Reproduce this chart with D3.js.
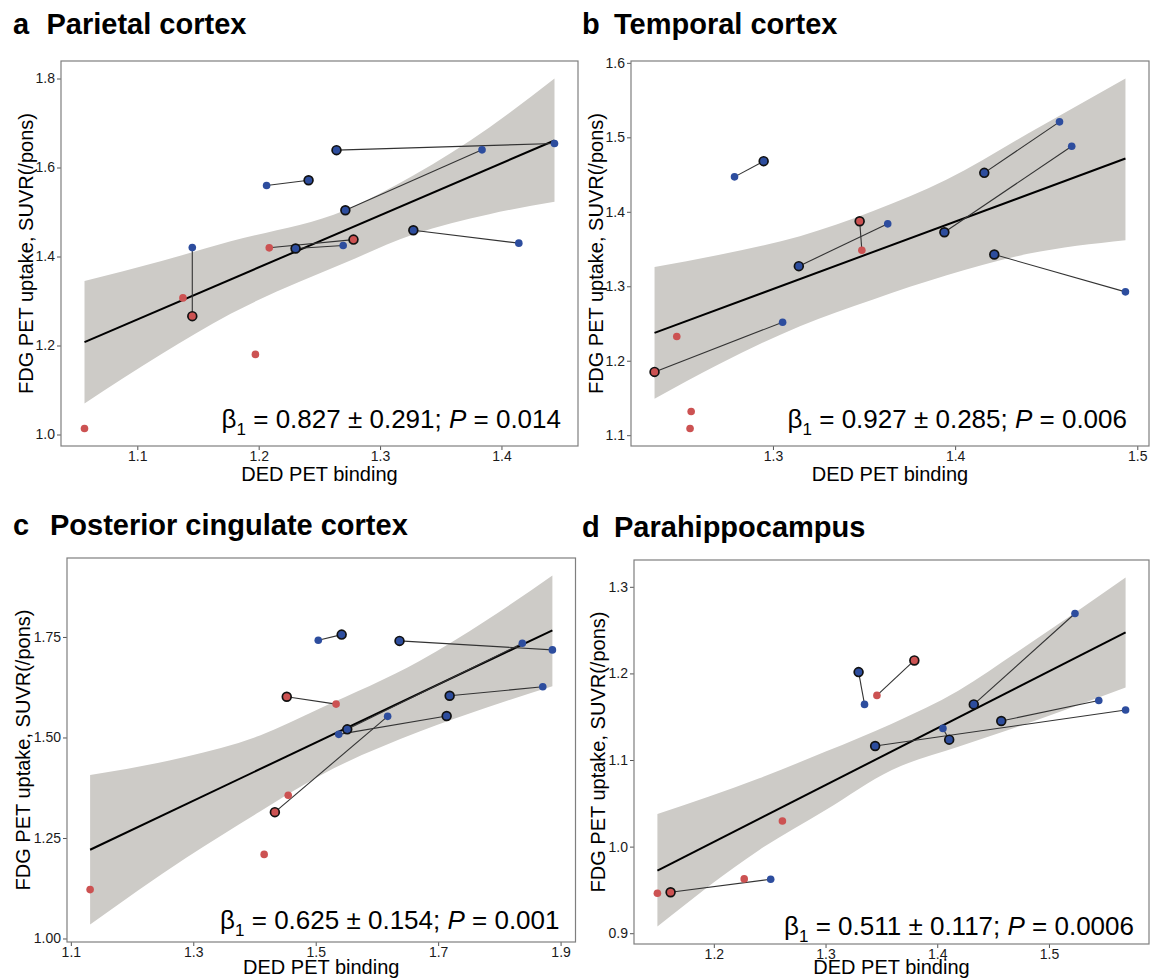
<!DOCTYPE html>
<html>
<head>
<meta charset="utf-8">
<script src="https://cdn.jsdelivr.net/npm/d3@7"></script>
<style>
  body { margin: 0; background: #fff; }
  svg { display: block; font-family: "Liberation Sans", Arial, Helvetica, sans-serif; }
</style>
</head>
<body>
<svg id="chart" width="1150" height="979"></svg>
<script>
// ---- data ----
// group: r = red, b = blue; ring: 1 = large outlined point
var aTitle = "Parietal cortex";
var aX = [1.0565, 1.1376, 1.1453, 1.1453, 1.1973, 1.2087, 1.2065, 1.2411, 1.2304, 1.2781, 1.2696, 1.2641, 1.4437, 1.2714, 1.3840, 1.3274, 1.4143];
var aY = [1.0135, 1.3070, 1.4200, 1.2660, 1.1800, 1.4195, 1.5596, 1.5715, 1.4180, 1.4380, 1.4247, 1.6390, 1.6540, 1.5040, 1.6397, 1.4590, 1.4300];
var aGroup = ["r","r","b","r","r","r","b","b","b","r","b","b","b","b","b","b","b"];
var aRing = [0,0,0,1,0,0,0,1,1,1,0,1,0,1,0,1,0];
var aLinks = [[2,3],[6,7],[5,9],[8,10],[11,12],[13,14],[15,16]];
var aFitX = [1.0565, 1.4437];
var aFitY = [1.2075, 1.6607];
var aBandX = [1.0565, 1.12, 1.1769, 1.2711, 1.3273, 1.39, 1.4437];
var aBandHi = [1.345, 1.390, 1.434, 1.504, 1.582, 1.690, 1.800];
var aBandLo = [1.0697, 1.181, 1.2712, 1.3858, 1.4494, 1.495, 1.523];
var aTicksX = [1.1, 1.2, 1.3, 1.4];
var aTicksY = [1.0, 1.2, 1.4, 1.6, 1.8];
var aStat = ["0.827", "0.291", "0.014"];

var bTitle = "Temporal cortex";
var bX = [1.2350, 1.3053, 1.2472, 1.2551, 1.2545, 1.2789, 1.2949, 1.3142, 1.3630, 1.3476, 1.3488, 1.3941, 1.4640, 1.4160, 1.4573, 1.4215, 1.4935];
var bY = [1.1850, 1.2517, 1.2325, 1.1318, 1.1090, 1.4469, 1.4680, 1.3270, 1.3838, 1.3874, 1.3484, 1.3726, 1.4881, 1.4523, 1.5208, 1.3426, 1.2925];
var bGroup = ["r","b","r","r","r","b","b","b","b","r","r","b","b","b","b","b","b"];
var bRing = [1,0,0,0,0,0,1,1,0,1,0,1,0,1,0,1,0];
var bLinks = [[0,1],[5,6],[7,8],[9,10],[11,12],[13,14],[15,16]];
var bFitX = [1.235, 1.4935];
var bFitY = [1.2374, 1.4715];
var bBandX = [1.235, 1.27, 1.3148, 1.355, 1.3954, 1.44, 1.4935];
var bBandHi = [1.326, 1.342, 1.3672, 1.401, 1.4433, 1.505, 1.579];
var bBandLo = [1.1488, 1.195, 1.2463, 1.2823, 1.3147, 1.3435, 1.3619];
var bTicksX = [1.3, 1.4, 1.5];
var bTicksY = [1.1, 1.2, 1.3, 1.4, 1.5, 1.6];
var bStat = ["0.927", "0.285", "0.006"];

var cTitle = "Posterior cingulate cortex";
var cX = [1.1315, 1.4158, 1.4551, 1.4333, 1.6175, 1.4527, 1.5333, 1.5042, 1.5424, 1.6369, 1.8866, 1.8375, 1.5515, 1.5376, 1.7139, 1.7188, 1.8709];
var cY = [1.1216, 1.2092, 1.3564, 1.3143, 1.5525, 1.6013, 1.5830, 1.7418, 1.7559, 1.7402, 1.7178, 1.7344, 1.5202, 1.5078, 1.5533, 1.6037, 1.6260];
var cGroup = ["r","r","r","r","b","r","r","b","b","b","b","b","b","b","b","b","b"];
var cRing = [0,0,0,1,0,1,0,0,1,1,0,0,1,0,1,1,0];
var cLinks = [[3,4],[5,6],[7,8],[9,10],[12,11],[13,14],[15,16]];
var cFitX = [1.1315, 1.8866];
var cFitY = [1.2208, 1.7666];
var cBandX = [1.1315, 1.2879, 1.409, 1.5066, 1.6696, 1.7783, 1.8866];
var cBandHi = [1.4069, 1.452, 1.505, 1.572, 1.690, 1.791, 1.903];
var cBandLo = [1.0347, 1.200, 1.316, 1.405, 1.5148, 1.574, 1.6277];
var cTicksX = [1.1, 1.3, 1.5, 1.7, 1.9];
var cTicksY = [1.00, 1.25, 1.50, 1.75];
var cStat = ["0.625", "0.154", "0.001"];

var dTitle = "Parahippocampus";
var dX = [1.1495, 1.1613, 1.2272, 1.2509, 1.2614, 1.3296, 1.3349, 1.3795, 1.3460, 1.3444, 1.5686, 1.4051, 1.4107, 1.4327, 1.5233, 1.4573, 1.5446];
var dY = [0.9462, 0.9473, 0.9627, 0.9623, 1.0296, 1.2015, 1.1642, 1.2150, 1.1746, 1.1162, 1.1577, 1.1365, 1.1235, 1.1642, 1.2692, 1.1450, 1.1688];
var dGroup = ["r","r","r","b","r","b","b","r","r","b","b","b","b","b","b","b","b"];
var dRing = [0,1,0,0,0,1,0,1,0,1,0,0,1,1,0,1,0];
var dLinks = [[1,3],[5,6],[7,8],[9,10],[11,12],[13,14],[15,16]];
var dFitX = [1.1495, 1.5686];
var dFitY = [0.9723, 1.2473];
var dBandX = [1.1495, 1.2407, 1.3001, 1.3594, 1.4188, 1.4722, 1.5686];
var dBandHi = [1.0377, 1.079, 1.1097, 1.1419, 1.180, 1.2253, 1.3108];
var dBandLo = [0.9077, 0.9962, 1.0423, 1.0885, 1.1154, 1.1385, 1.1838];
var dTicksX = [1.2, 1.3, 1.4, 1.5];
var dTicksY = [0.9, 1.0, 1.1, 1.2, 1.3];
var dStat = ["0.511", "0.117", "0.0006"];

var xLabel = "DED PET binding";
var yLabel = "FDG PET uptake, SUVR(/pons)";

// ---- layout ----
var panels = [
	{ letter: "a", title: aTitle, x: aX, y: aY, group: aGroup, ring: aRing, links: aLinks, fitX: aFitX, fitY: aFitY,
	  bandX: aBandX, bandHi: aBandHi, bandLo: aBandLo, ticksX: aTicksX, ticksY: aTicksY, fmtY: ".1f", stat: aStat,
	  box: { left: 61, right: 578, top: 61, bottom: 446 }, titleY: 34, letterX: 13, titleX: 46.5, ylabX: 33, statDx: 17, statDy: 18 },
	{ letter: "b", title: bTitle, x: bX, y: bY, group: bGroup, ring: bRing, links: bLinks, fitX: bFitX, fitY: bFitY,
	  bandX: bBandX, bandHi: bBandHi, bandLo: bBandLo, ticksX: bTicksX, ticksY: bTicksY, fmtY: ".1f", stat: bStat,
	  box: { left: 631, right: 1149, top: 61, bottom: 446 }, titleY: 34, letterX: 582, titleX: 614, ylabX: 603, statDx: 22, statDy: 18 },
	{ letter: "c", title: cTitle, x: cX, y: cY, group: cGroup, ring: cRing, links: cLinks, fitX: cFitX, fitY: cFitY,
	  bandX: cBandX, bandHi: cBandHi, bandLo: cBandLo, ticksX: cTicksX, ticksY: cTicksY, fmtY: ".2f", stat: cStat,
	  box: { left: 67, right: 575.5, top: 558, bottom: 942 }, titleY: 535, letterX: 13, titleX: 50, ylabX: 30, statDx: 16, statDy: 13 },
	{ letter: "d", title: dTitle, x: dX, y: dY, group: dGroup, ring: dRing, links: dLinks, fitX: dFitX, fitY: dFitY,
	  bandX: dBandX, bandHi: dBandHi, bandLo: dBandLo, ticksX: dTicksX, ticksY: dTicksY, fmtY: ".1f", stat: dStat,
	  box: { left: 634, right: 1149, top: 560, bottom: 944 }, titleY: 536.5, letterX: 582, titleX: 614, ylabX: 605, statDx: 15, statDy: 9 }
];

var colour = d3.scaleOrdinal().domain(["r", "b"]).range(["#cc5252", "#2d4d9e"]);
var svg = d3.select("#chart");

// ggplot style 5% expansion
function expand(ext) {
	var pad = (ext[1] - ext[0]) * 0.05;
	return [ext[0] - pad, ext[1] + pad];
}

function drawPanel(p) {
	var b = p.box;
	var xs = d3.scaleLinear()
		.domain(expand(d3.extent(p.x.concat(p.bandX))))
		.range([b.left, b.right]);
	var ys = d3.scaleLinear()
		.domain(expand(d3.extent(p.y.concat(p.bandHi, p.bandLo, p.fitY))))
		.range([b.bottom, b.top]);

	var g = svg.append("g");

	g.append("rect")
		.attr("x", b.left).attr("y", b.top)
		.attr("width", b.right - b.left).attr("height", b.bottom - b.top)
		.attr("fill", "#fff");

	// titles
	g.append("text")
		.attr("x", p.letterX).attr("y", p.titleY)
		.style("font-size", "29px").style("font-weight", "bold")
		.text(p.letter);
	g.append("text")
		.attr("x", p.titleX).attr("y", p.titleY)
		.style("font-size", "29px").style("font-weight", "bold")
		.text(p.title);

	// confidence band
	var band = d3.area()
		.x(function(d, i) { return xs(p.bandX[i]); })
		.y0(function(d, i) { return ys(p.bandLo[i]); })
		.y1(function(d, i) { return ys(p.bandHi[i]); })
		.curve(d3.curveMonotoneX);
	g.append("path")
		.datum(p.bandX)
		.attr("d", band)
		.attr("fill", "#cdcbc7");

	// fit line
	g.append("line")
		.attr("x1", xs(p.fitX[0])).attr("y1", ys(p.fitY[0]))
		.attr("x2", xs(p.fitX[1])).attr("y2", ys(p.fitY[1]))
		.attr("stroke", "#000")
		.attr("stroke-width", 2);

	// paired links
	g.append("g").selectAll("line")
		.data(p.links)
		.enter().append("line")
		.attr("x1", function(d) { return xs(p.x[d[0]]); })
		.attr("y1", function(d) { return ys(p.y[d[0]]); })
		.attr("x2", function(d) { return xs(p.x[d[1]]); })
		.attr("y2", function(d) { return ys(p.y[d[1]]); })
		.attr("stroke", "#333")
		.attr("stroke-width", 1.1);

	// points, outlined ones on top
	var idx = d3.range(p.x.length).sort(function(i, j) { return p.ring[i] - p.ring[j]; });
	g.append("g").selectAll("circle")
		.data(idx)
		.enter().append("circle")
		.attr("cx", function(i) { return xs(p.x[i]); })
		.attr("cy", function(i) { return ys(p.y[i]); })
		.attr("r", function(i) { return p.ring[i] ? 4.4 : 3.8; })
		.attr("fill", function(i) { return colour(p.group[i]); })
		.attr("stroke", function(i) { return p.ring[i] ? "#111" : "none"; })
		.attr("stroke-width", 1.7);

	// axes
	var xAxis = g.append("g")
		.attr("transform", "translate(0," + b.bottom + ")")
		.call(d3.axisBottom(xs).tickValues(p.ticksX).tickFormat(d3.format(".1f")).tickSize(4).tickPadding(1));
	var yAxis = g.append("g")
		.attr("transform", "translate(" + b.left + ",0)")
		.call(d3.axisLeft(ys).tickValues(p.ticksY).tickFormat(d3.format(p.fmtY)).tickSize(4).tickPadding(2));
	[xAxis, yAxis].forEach(function(ax) {
		ax.select(".domain").remove();
		ax.selectAll(".tick line").attr("stroke", "#555");
		ax.selectAll(".tick text")
			.attr("fill", "#1a1a1a")
			.style("font-size", "14px")
			.style("font-family", "'Liberation Sans', Arial, sans-serif");
	});

	// border
	g.append("rect")
		.attr("x", b.left).attr("y", b.top)
		.attr("width", b.right - b.left).attr("height", b.bottom - b.top)
		.attr("fill", "none")
		.attr("stroke", "#7f7f7f")
		.attr("stroke-width", 1.2);

	// axis titles (kept inside the page at the bottom edge)
	g.append("text")
		.attr("x", (b.left + b.right) / 2).attr("y", Math.min(b.bottom + 35, 974))
		.attr("text-anchor", "middle")
		.style("font-size", "20px")
		.text(xLabel);
	g.append("text")
		.attr("transform", "translate(" + p.ylabX + "," + ((b.top + b.bottom) / 2) + ") rotate(-90)")
		.attr("text-anchor", "middle")
		.style("font-size", "20px")
		.text(yLabel);

	// statistics
	var t = g.append("text")
		.attr("x", b.right - p.statDx).attr("y", b.bottom - p.statDy)
		.attr("text-anchor", "end")
		.style("font-size", "26px");
	t.append("tspan").text("\u03b2");
	t.append("tspan").attr("dy", 7).style("font-size", "17px").text("1");
	t.append("tspan").attr("dy", -7).text(" = " + p.stat[0] + " \u00b1 " + p.stat[1] + "; ");
	t.append("tspan").style("font-style", "italic").text("P");
	t.append("tspan").text(" = " + p.stat[2]);
}

panels.forEach(drawPanel);
</script>
</body>
</html>
